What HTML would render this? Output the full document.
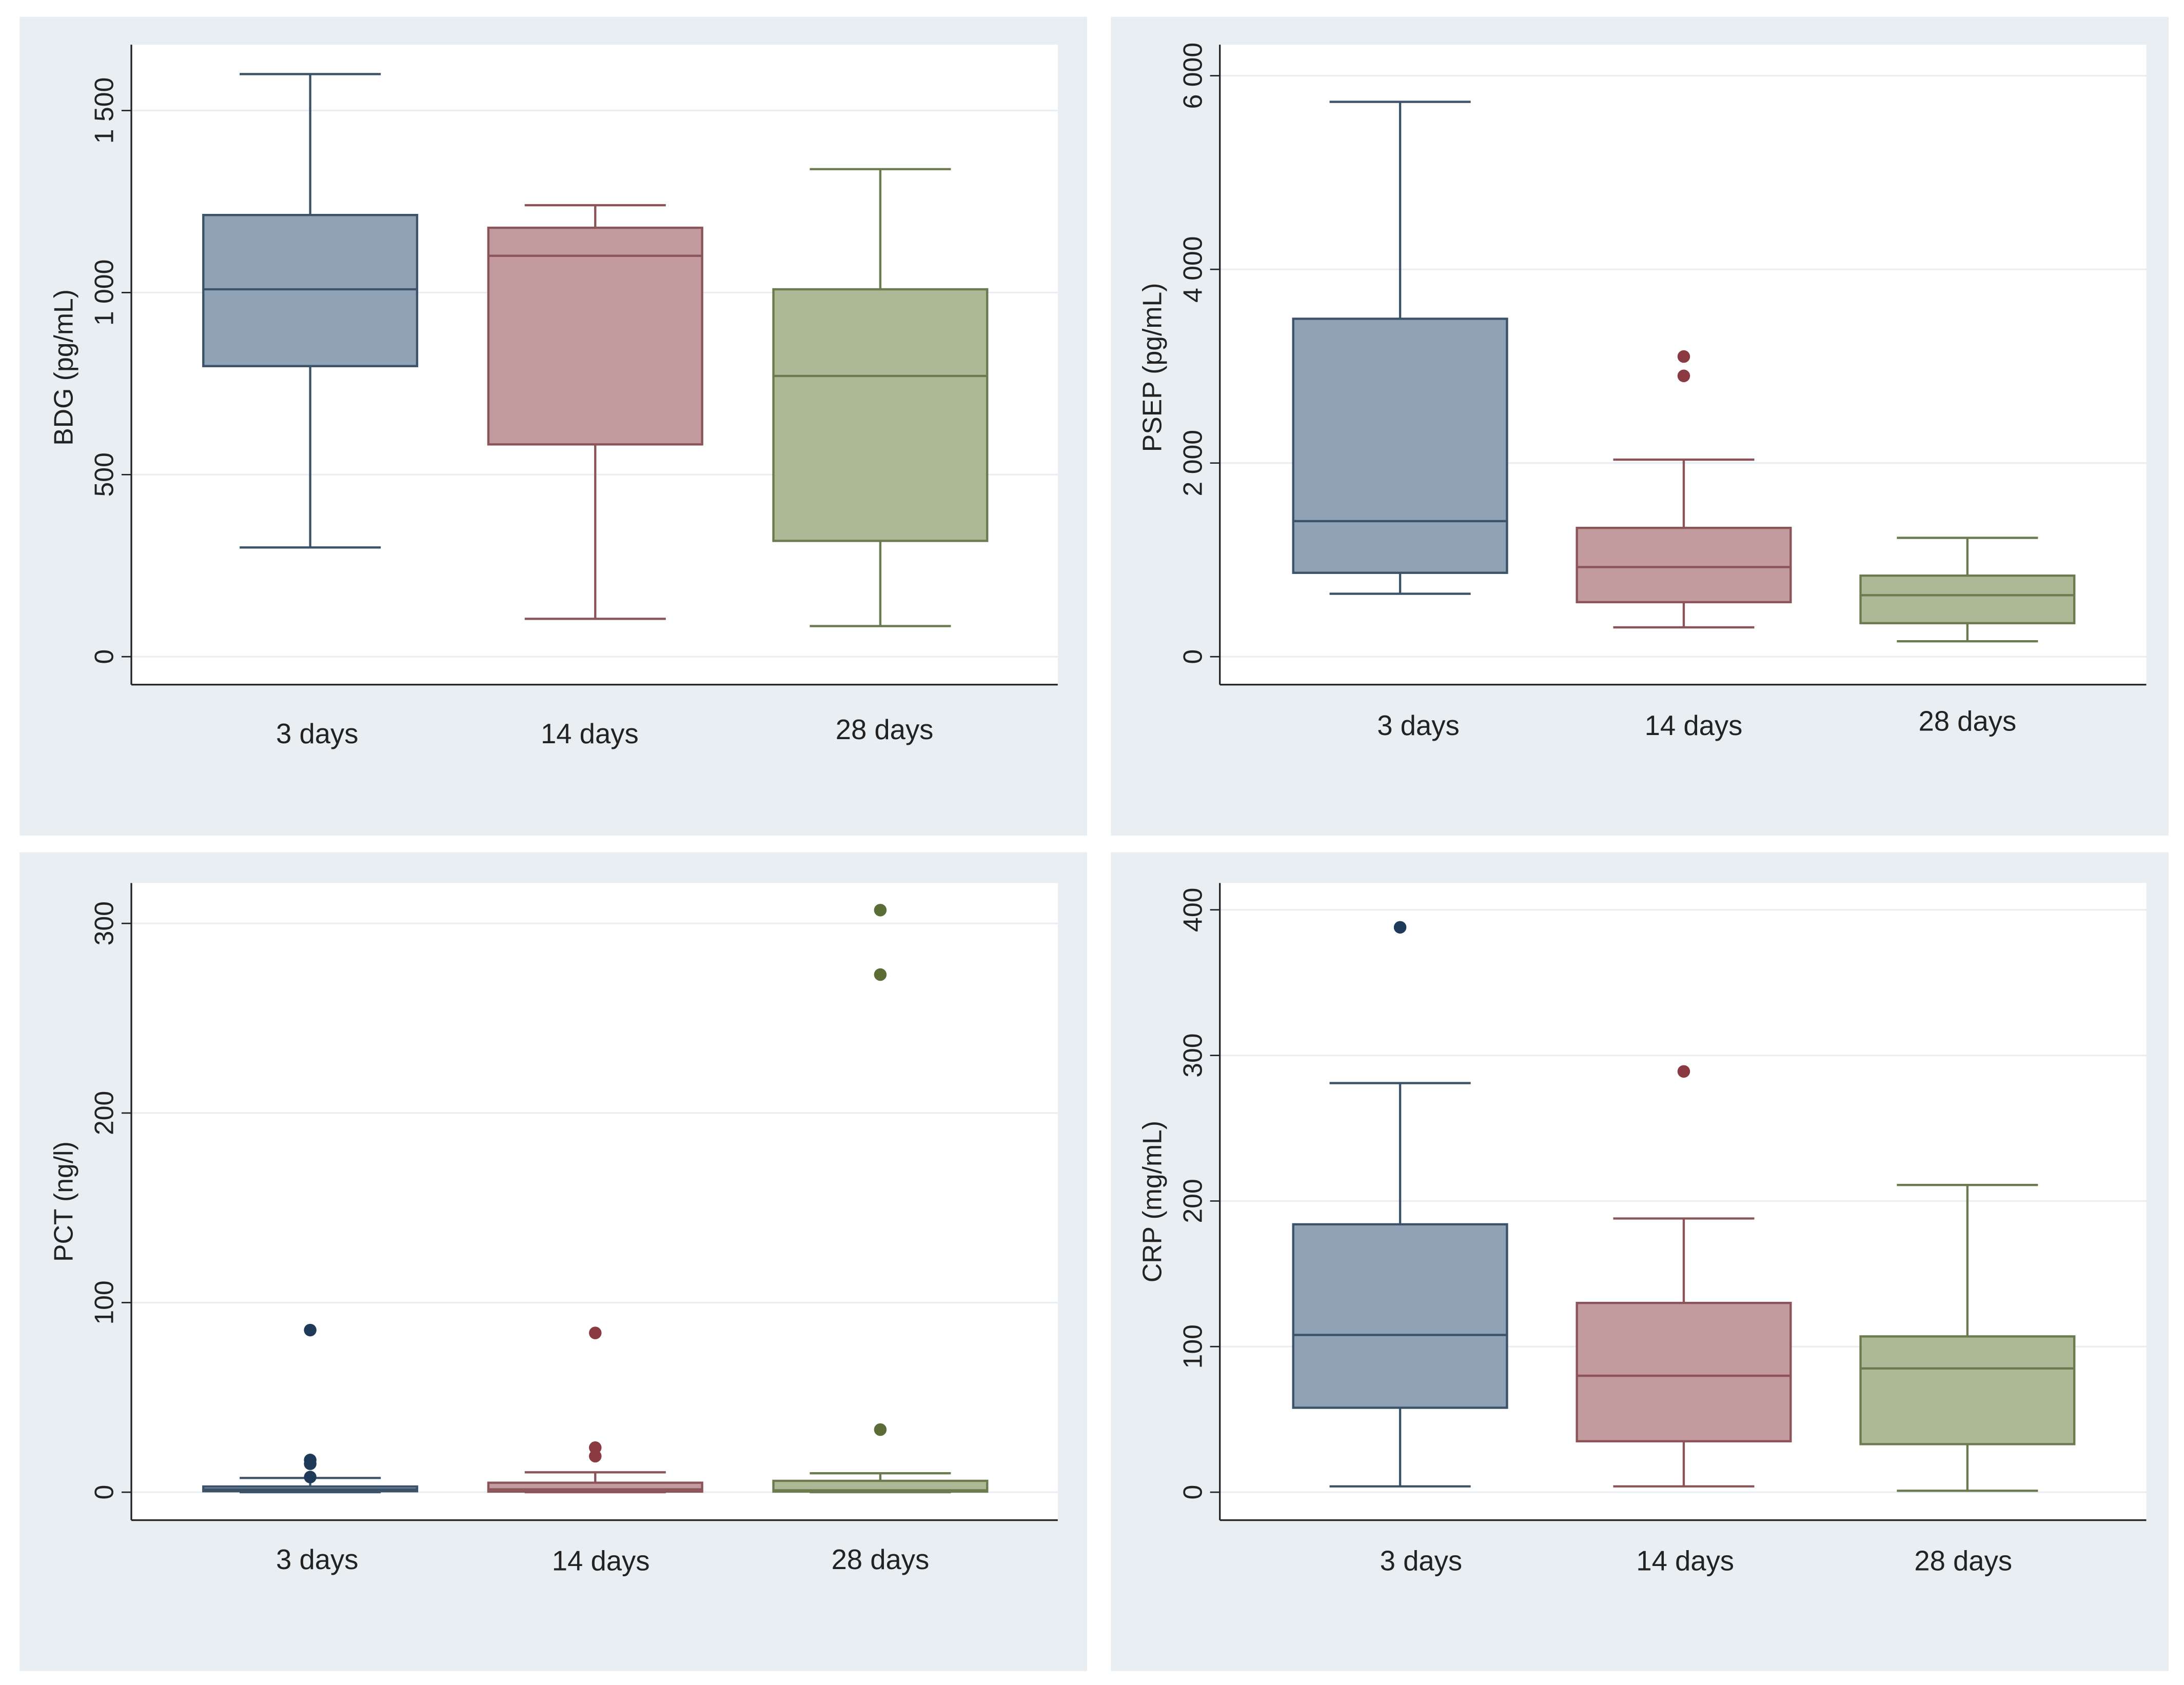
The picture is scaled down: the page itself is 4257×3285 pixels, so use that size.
<!DOCTYPE html>
<html><head><meta charset="utf-8">
<style>
html,body{margin:0;padding:0;background:#fff;}
svg{display:block;font-family:"Liberation Sans",Arial,sans-serif;}
</style></head>
<body>
<svg id="fig" width="4257" height="3285" viewBox="0 0 1563 1206" preserveAspectRatio="none" xmlns="http://www.w3.org/2000/svg"></svg>
<script>
// Shared categories
const categories = ["3 days", "14 days", "28 days"];

// Panel 1: BDG
const bdgTicks = [0, 500, 1000, 1500];
const bdgTickLabels = ["0", "500", "1 000", "1 500"];
const bdgLow = [300, 104, 84];
const bdgQ1 = [798, 583, 318];
const bdgMedian = [1009, 1101, 771];
const bdgQ3 = [1213, 1178, 1009];
const bdgHigh = [1600, 1240, 1339];
const bdgOutliers = [[], [], []];

// Panel 2: PSEP
const psepTicks = [0, 2000, 4000, 6000];
const psepTickLabels = ["0", "2 000", "4 000", "6 000"];
const psepLow = [650, 303, 159];
const psepQ1 = [866, 563, 346];
const psepMedian = [1400, 925, 635];
const psepQ3 = [3490, 1330, 837];
const psepHigh = [5730, 2035, 1227];
const psepOutliers = [[], [3100, 2900], []];

// Panel 3: PCT
const pctTicks = [0, 100, 200, 300];
const pctTickLabels = ["0", "100", "200", "300"];
const pctLow = [0, 0, 0];
const pctQ1 = [0.5, 0.3, 0.3];
const pctMedian = [1.5, 1.5, 1];
const pctQ3 = [3, 5, 6];
const pctHigh = [7.5, 10.5, 10];
const pctOutliers = [[85.5, 17, 15, 8], [84, 23.5, 19], [307, 273, 33]];

// Panel 4: CRP
const crpTicks = [0, 100, 200, 300, 400];
const crpTickLabels = ["0", "100", "200", "300", "400"];
const crpLow = [4, 4, 1];
const crpQ1 = [58, 35, 33];
const crpMedian = [108, 80, 85];
const crpQ3 = [184, 130, 107];
const crpHigh = [281, 188, 211];
const crpOutliers = [[388], [289], []];

const NS = "http://www.w3.org/2000/svg";
const svg = document.getElementById("fig");
const fills = ["#90a3b6", "#c39a9e", "#adb996"];
const strokes = ["#3b5269", "#8a5458", "#6c7a4f"];
const dots = ["#1e3a58", "#8a3a40", "#5b6d37"];

function mk(tag, attrs, parent) {
  const e = document.createElementNS(NS, tag);
  for (const k in attrs) e.setAttribute(k, attrs[k]);
  (parent || svg).appendChild(e);
  return e;
}

function panel(cfg) {
  const g = mk("g", {});
  
  
  const bg = mk("rect", {x: cfg.bx, y: cfg.by, width: cfg.bw, height: 586, fill: "#e9eef2"}, g);
  
  
  const pa = mk("rect", {x: cfg.px, y: cfg.py, width: cfg.pw, height: cfg.ph, fill: "#ffffff"}, g);
  
  
  const yScale = v => cfg.y0 - (v - cfg.t[0]) * cfg.k;
  const xScale = i => cfg.cx[i];
  cfg.t.forEach((tv, i) => {
    const y = yScale(tv);
    const gl = mk("line", {x1: cfg.px, x2: cfg.px + cfg.pw, y1: y, y2: y, stroke: "#eaeef2", "stroke-width": 1.2}, g);
    
    
    const tk = mk("line", {x1: cfg.px - 7, x2: cfg.px, y1: y, y2: y, stroke: "#222", "stroke-width": 1}, g);
    
    
    const tl = mk("text", {x: 0, y: 0, transform: `translate(${cfg.px - 13},${y}) rotate(-90)`, "text-anchor": "middle", "font-size": 19, fill: "#222"}, g);
    tl.textContent = cfg.tl[i];
    
    
  });
  const ya = mk("line", {x1: cfg.px, x2: cfg.px, y1: cfg.py, y2: cfg.py + cfg.ph, stroke: "#222", "stroke-width": 1.2}, g);
  
  
  const xa = mk("line", {x1: cfg.px, x2: cfg.px + cfg.pw, y1: cfg.py + cfg.ph, y2: cfg.py + cfg.ph, stroke: "#222", "stroke-width": 1.2}, g);
  
  
  const yt = mk("text", {x: 0, y: 0, transform: `translate(${cfg.px - 42},${cfg.titleY}) rotate(-90)`, "text-anchor": "middle", "font-size": 19, fill: "#222"}, g);
  yt.textContent = cfg.title;
  
  
  const bw = 153, cw = 101;
  categories.forEach((c, i) => {
    const x = xScale(i);
    const bg2 = mk("g", {}, g);
    
    
    const st = {stroke: strokes[i], "stroke-width": 1.6};
    mk("line", Object.assign({x1: x, x2: x, y1: yScale(cfg.high[i]), y2: yScale(cfg.q3[i])}, st), bg2);
    mk("line", Object.assign({x1: x, x2: x, y1: yScale(cfg.q1[i]), y2: yScale(cfg.low[i])}, st), bg2);
    mk("line", Object.assign({x1: x - cw / 2, x2: x + cw / 2, y1: yScale(cfg.high[i]), y2: yScale(cfg.high[i])}, st), bg2);
    mk("line", Object.assign({x1: x - cw / 2, x2: x + cw / 2, y1: yScale(cfg.low[i]), y2: yScale(cfg.low[i])}, st), bg2);
    const top = yScale(cfg.q3[i]), bot = yScale(cfg.q1[i]);
    mk("rect", Object.assign({x: x - bw / 2, y: top, width: bw, height: Math.max(bot - top, 1), fill: fills[i]}, st), bg2);
    mk("line", Object.assign({x1: x - bw / 2, x2: x + bw / 2, y1: yScale(cfg.med[i]), y2: yScale(cfg.med[i])}, st), bg2);
    cfg.out[i].forEach(v => {
      const d = mk("circle", {cx: x, cy: yScale(v), r: 4.5, fill: dots[i]}, g);
      
      
    });
    const xl = mk("text", {x: cfg.lx[i], y: cfg.ly[i], "text-anchor": "middle", "font-size": 20, fill: "#222"}, g);
    xl.textContent = c;
    
    
  });
}

panel({name: "bdg", bx: 14, by: 12, bw: 764, px: 94, py: 32, pw: 663, ph: 458, y0: 470, k: 130.3 / 500,
  t: bdgTicks, tl: bdgTickLabels, title: "BDG (pg/mL)", titleY: 263, cx: [222, 426, 630],
  low: bdgLow, q1: bdgQ1, med: bdgMedian, q3: bdgQ3, high: bdgHigh, out: bdgOutliers,
  lx: [227, 422, 633], ly: [532, 532, 529]});
panel({name: "psep", bx: 795, by: 12, bw: 757, px: 873, py: 32, pw: 663, ph: 458, y0: 470, k: 69.3 / 1000,
  t: psepTicks, tl: psepTickLabels, title: "PSEP (pg/mL)", titleY: 263, cx: [1002, 1205, 1408],
  low: psepLow, q1: psepQ1, med: psepMedian, q3: psepQ3, high: psepHigh, out: psepOutliers,
  lx: [1015, 1212, 1408], ly: [526, 526, 523]});
panel({name: "pct", bx: 14, by: 610, bw: 764, px: 94, py: 632, pw: 663, ph: 456, y0: 1068, k: 135.7 / 100,
  t: pctTicks, tl: pctTickLabels, title: "PCT (ng/l)", titleY: 860, cx: [222, 426, 630],
  low: pctLow, q1: pctQ1, med: pctMedian, q3: pctQ3, high: pctHigh, out: pctOutliers,
  lx: [227, 430, 630], ly: [1123, 1124, 1123]});
panel({name: "crp", bx: 795, by: 610, bw: 757, px: 873, py: 632, pw: 663, ph: 456, y0: 1068, k: 104.2 / 100,
  t: crpTicks, tl: crpTickLabels, title: "CRP (mg/mL)", titleY: 860, cx: [1002, 1205, 1408],
  low: crpLow, q1: crpQ1, med: crpMedian, q3: crpQ3, high: crpHigh, out: crpOutliers,
  lx: [1017, 1206, 1405], ly: [1124, 1124, 1124]});
</script>
</body></html>
